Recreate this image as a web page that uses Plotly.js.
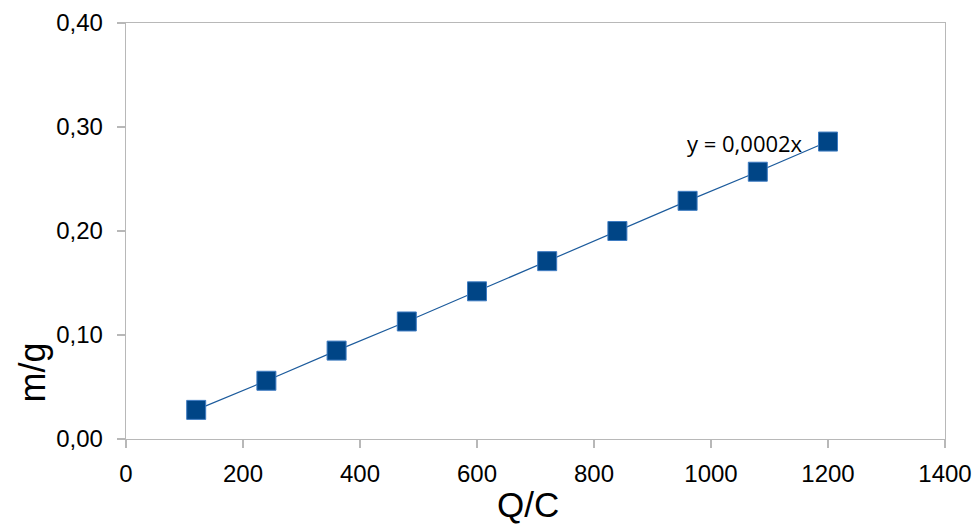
<!DOCTYPE html>
<html>
<head>
<meta charset="utf-8">
<script src="https://cdn.plot.ly/plotly-3.0.1.min.js"></script>
<style>html,body{margin:0;padding:0;background:#fff;}#chart{width:980px;height:527px;}</style>
</head>
<body>
<div id="chart"></div>
<script>
var qc = [120, 240, 360, 480, 600, 720, 840, 960, 1080, 1200];
var mg = [0.028, 0.056, 0.085, 0.113, 0.142, 0.171, 0.200, 0.229, 0.257, 0.286];
var xTicks = [0, 200, 400, 600, 800, 1000, 1200, 1400];
var yTicks = [0, 0.1, 0.2, 0.3, 0.4];
var yTickText = ["0,00", "0,10", "0,20", "0,30", "0,40"];
var equationText = "y = 0,0002x";
var xTitle = "Q/C";
var yTitle = "m/g";

var trace = {
  x: qc, y: mg, type: 'scatter', mode: 'lines+markers',
  line: {color: '#1c5b9c', width: 1.2},
  marker: {symbol: 'square', size: 19, color: '#004586', line: {color: '#3f7cc2', width: 1}},
  hoverinfo: 'none'
};

var axisCommon = {
  showline: true, mirror: true, linecolor: '#b8b8b8', linewidth: 1.3,
  showgrid: false, zeroline: false,
  ticks: 'outside', ticklen: 8, tickcolor: '#b8b8b8', tickwidth: 1.3,
  tickfont: {family: 'Liberation Sans, Arial, sans-serif', size: 24, color: '#000'}
};

var layout = {
  width: 980, height: 527,
  margin: {l: 126, r: 35, t: 23, b: 88},
  paper_bgcolor: '#fff', plot_bgcolor: '#fff',
  showlegend: false,
  separators: ', ',
  xaxis: Object.assign({}, axisCommon, {range: [0, 1400], tickvals: xTicks, ticklabelstandoff: 5}),
  yaxis: Object.assign({}, axisCommon, {range: [0, 0.4], tickvals: yTicks, ticktext: yTickText, ticklabelstandoff: 9}),
  annotations: [
    {text: equationText, x: 1160, y: 0.285, xref: 'x', yref: 'y', showarrow: false, xanchor: 'right', yanchor: 'middle',
     font: {family: 'Open Sans, sans-serif', size: 22, color: '#000'}},
    {text: xTitle, x: 0.491, y: 0, xref: 'paper', yref: 'paper', yshift: -87, showarrow: false, xanchor: 'center', yanchor: 'bottom',
     font: {family: 'Liberation Sans, Arial, sans-serif', size: 35, color: '#000'}},
    {text: yTitle, x: 0, y: 0.16, xref: 'paper', yref: 'paper', xshift: -94, showarrow: false, textangle: -90, xanchor: 'center', yanchor: 'middle',
     font: {family: 'Liberation Sans, Arial, sans-serif', size: 36, color: '#000'}}
  ]
};

Plotly.newPlot('chart', [trace], layout, {displayModeBar: false, staticPlot: true});
</script>
</body>
</html>
